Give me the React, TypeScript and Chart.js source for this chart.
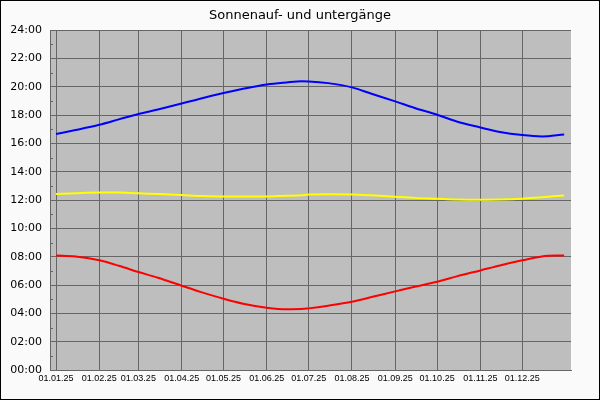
import React, { useEffect, useRef } from 'react';
import { Chart, registerables } from 'chart.js';

Chart.register(...registerables);

// day of year (0 = 01.01.25) for each reading
const dayIndex = [0, 14, 31, 45, 59, 73, 90, 104, 120, 134, 151, 165, 176, 181, 195, 212, 226, 243, 257, 273, 287, 304, 318, 334, 348, 364];

// hours (decimal)
const sunset = [16.66, 16.94, 17.31, 17.69, 18.07, 18.39, 18.81, 19.17, 19.55, 19.85, 20.16, 20.30, 20.38, 20.37, 20.25, 19.95, 19.50, 18.96, 18.49, 18.02, 17.54, 17.12, 16.80, 16.58, 16.49, 16.63];
const noon = [12.42, 12.48, 12.53, 12.53, 12.47, 12.42, 12.35, 12.28, 12.25, 12.24, 12.25, 12.30, 12.33, 12.38, 12.40, 12.39, 12.33, 12.23, 12.15, 12.09, 12.04, 12.02, 12.03, 12.09, 12.20, 12.31];
const sunrise = [8.09, 8.02, 7.74, 7.36, 6.92, 6.51, 5.95, 5.50, 5.03, 4.68, 4.40, 4.29, 4.30, 4.35, 4.54, 4.82, 5.15, 5.55, 5.88, 6.23, 6.61, 7.03, 7.38, 7.74, 8.02, 8.09];

const monthStartDays = [0, 31, 59, 90, 120, 151, 181, 212, 243, 273, 304, 334];
const monthLabels = ['01.01.25', '01.02.25', '01.03.25', '01.04.25', '01.05.25', '01.06.25', '01.07.25', '01.08.25', '01.09.25', '01.10.25', '01.11.25', '01.12.25'];

const toPoints = (vals: number[]) => vals.map((v, i) => ({ x: dayIndex[i], y: v }));

const backgroundPlugin = {
    id: 'bgPlugin',
    beforeDraw(chart: any) {
        const { ctx, chartArea, width, height } = chart;
        ctx.save();
        ctx.fillStyle = '#fafafa';
        ctx.fillRect(0, 0, width, height);
        ctx.fillStyle = '#bebebe';
        ctx.fillRect(chartArea.left, chartArea.top, chartArea.right - chartArea.left, chartArea.bottom - chartArea.top);
        ctx.strokeStyle = '#000000';
        ctx.lineWidth = 1;
        ctx.strokeRect(0.5, 0.5, width - 1, height - 1);
        ctx.restore();
    },
    afterDraw(chart: any) {
        // minor ticks on the hour axis (odd hours)
        const { ctx, chartArea, scales } = chart;
        ctx.save();
        ctx.strokeStyle = '#666666';
        ctx.lineWidth = 1;
        for (let h = 1; h < 24; h += 2) {
            const y = Math.round(scales.y.getPixelForValue(h)) + 0.5;
            ctx.beginPath();
            ctx.moveTo(chartArea.left, y);
            ctx.lineTo(chartArea.left + 3, y);
            ctx.stroke();
        }
        ctx.restore();
    },
};

const SunChart: React.FC = () => {
    const chartRef = useRef<HTMLCanvasElement>(null);
    const chartInstance = useRef<Chart | null>(null);

    useEffect(() => {
        document.body.style.margin = '0';
        if (chartRef.current) {
            if (chartInstance.current) {
                chartInstance.current.destroy();
            }
            const ctx = chartRef.current.getContext('2d');
            if (ctx) {
                const line = (label: string, vals: number[], color: string) => ({
                    label,
                    data: toPoints(vals),
                    borderColor: color,
                    backgroundColor: color,
                    borderWidth: 2,
                    pointRadius: 0,
                    cubicInterpolationMode: 'monotone' as const,
                    fill: false,
                });
                chartInstance.current = new Chart(ctx, {
                    type: 'line',
                    data: {
                        datasets: [
                            line('Sonnenuntergang', sunset, '#0000ff'),
                            line('Mittag', noon, '#ffff00'),
                            line('Sonnenaufgang', sunrise, '#ff0000'),
                        ],
                    },
                    options: {
                        responsive: false,
                        animation: false,
                        layout: { padding: 0 },
                        plugins: {
                            legend: { display: false },
                            tooltip: { enabled: false },
                            title: {
                                display: true,
                                text: 'Sonnenauf- und untergänge',
                                color: '#000000',
                                font: { family: 'DejaVu Sans', size: 13, weight: 'normal' },
                                padding: { top: 8, bottom: 6.4 },
                            },
                        },
                        scales: {
                            x: {
                                type: 'linear',
                                min: -4.3,
                                max: 368.9,
                                afterBuildTicks: (scale: any) => {
                                    scale.ticks = monthStartDays.map((d) => ({ value: d }));
                                },
                                afterFit: (scale: any) => {
                                    scale.height = 30;
                                },
                                ticks: {
                                    autoSkip: false,
                                    maxRotation: 0,
                                    padding: 3,
                                    color: '#000000',
                                    font: { family: 'Liberation Sans', size: 9 },
                                    callback: (value: any) => {
                                        const i = monthStartDays.indexOf(Number(value));
                                        return i >= 0 ? monthLabels[i] : '';
                                    },
                                },
                                grid: { color: '#666666', lineWidth: 1, drawTicks: false },
                                border: { color: '#666666' },
                            },
                            y: {
                                min: 0,
                                max: 24,
                                afterFit: (scale: any) => {
                                    scale.width = 50;
                                },
                                ticks: {
                                    stepSize: 2,
                                    padding: 8,
                                    color: '#000000',
                                    font: { family: 'DejaVu Sans', size: 11 },
                                    callback: (value: any) => String(value).padStart(2, '0') + ':00',
                                },
                                grid: { color: '#666666', lineWidth: 1, drawTicks: false },
                                border: { color: '#666666' },
                            },
                            // empty right-hand margin
                            yRight: {
                                position: 'right',
                                min: 0,
                                max: 24,
                                afterFit: (scale: any) => {
                                    scale.width = 29;
                                },
                                ticks: { display: false },
                                grid: { display: false },
                                border: { display: false },
                            },
                        },
                    },
                    plugins: [backgroundPlugin],
                });
            }
        }
        return () => {
            if (chartInstance.current) {
                chartInstance.current.destroy();
                chartInstance.current = null;
            }
        };
    }, []);

    return (
        <div style={{ width: 600, height: 400 }}>
            <canvas ref={chartRef} width={600} height={400}></canvas>
        </div>
    );
};

export default function App() {
    return <SunChart />;
}
